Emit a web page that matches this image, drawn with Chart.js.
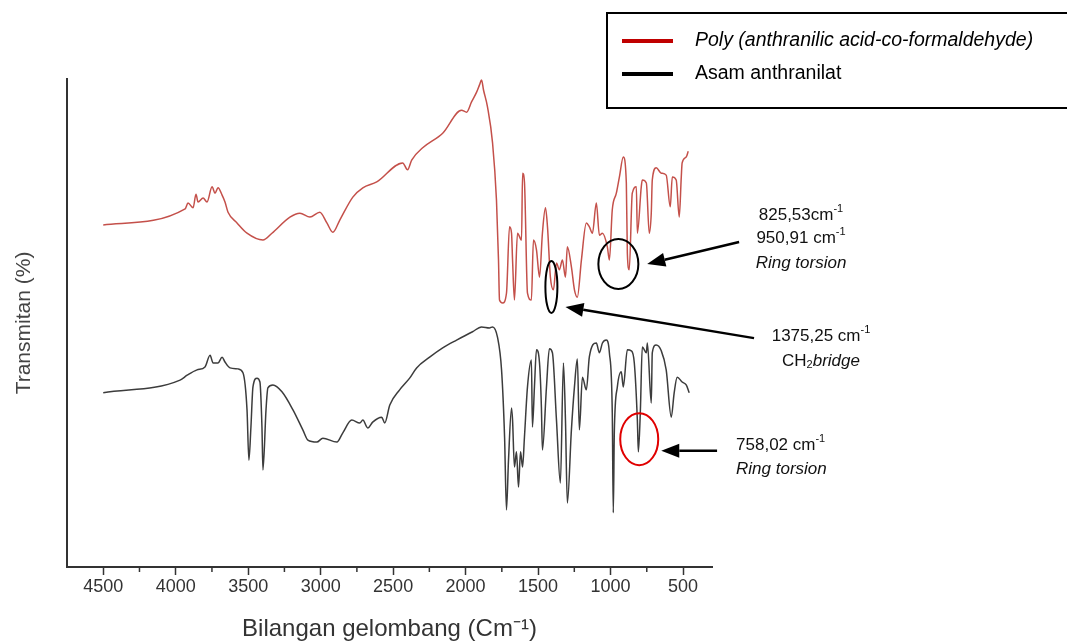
<!DOCTYPE html>
<html>
<head>
<meta charset="utf-8">
<title>FTIR</title>
<script src="https://cdn.jsdelivr.net/npm/chart.js@4.4.1/dist/chart.umd.min.js"></script>
<style>
  html, body { margin: 0; padding: 0; background: #fff; }
  #wrap { width: 1067px; height: 641px; }
</style>
</head>
<body>
<div id="wrap"><canvas id="chart" width="1067" height="641"></canvas></div>
<script>
// bilangan gelombang (cm-1) dan transmitan (skala relatif, sumbu y tanpa angka)
const polyWavenumber = [4500,3935,3915,3880,3860,3846,3811,3784,3749,3729,3708,3680,3660,3639,3577,3508,3398,3336,3212,3143,3074,3006,2957,2916,2868,2778,2709,2613,2434,2400,2372,2296,2158,2028,1993,1959,1924,1904,1890,1876,1849,1814,1787,1773,1766,1745,1718,1697,1683,1676,1663,1642,1614,1607,1594,1573,1546,1532,1511,1490,1470,1449,1435,1415,1394,1373,1353,1332,1311,1298,1270,1249,1229,1201,1167,1146,1125,1098,1077,1056,1022,1008,988,960,939,912,891,884,871,850,822,815,788,781,753,733,719,712,685,650,616,588,574,547,526,512,506,478,464];
const polyTransmittance = [70.1,73.4,74.6,73.6,76.4,74.8,75.6,74.8,77.9,76.6,77.7,76.2,74.8,72.7,70.5,68.4,67.0,68.4,71.7,72.5,71.7,72.7,70.5,68.6,71.1,75.8,77.7,78.9,82.8,81.4,83.4,85.9,88.9,93.6,93.2,95.3,97.3,98.8,99.8,97.7,94.3,86.9,75.2,62.9,54.7,54.1,56.1,69.7,68.4,62.9,54.7,68.4,67.0,80.7,78.9,56.1,54.7,67.0,65.0,59.4,68.4,73.6,69.7,59.4,56.8,62.3,60.9,62.9,59.4,65.6,61.5,56.8,55.3,62.9,70.5,69.7,68.4,74.6,68.0,68.4,65.6,62.9,73.2,76.6,79.9,84.0,78.7,64.3,60.9,76.6,77.9,68.4,77.9,79.3,78.7,68.4,72.5,79.3,81.8,80.7,80.3,73.8,79.9,79.3,71.7,79.9,82.8,84.0,85.2];

const asamWavenumber = [4500,3970,3921,3853,3798,3763,3742,3708,3680,3660,3625,3570,3536,3508,3495,3481,3467,3439,3419,3405,3398,3377,3364,3329,3267,3191,3123,3088,3026,2985,2888,2847,2785,2730,2709,2675,2641,2579,2558,2523,2455,2386,2338,2248,2158,2062,1952,1890,1835,1814,1780,1752,1731,1718,1704,1683,1676,1663,1649,1635,1621,1607,1594,1573,1546,1539,1525,1511,1490,1477,1470,1442,1422,1401,1373,1346,1325,1311,1298,1270,1249,1229,1215,1194,1167,1146,1098,1077,1056,1029,1008,988,981,974,953,926,912,884,857,836,815,808,794,781,753,746,719,712,685,650,616,581,561,540,506,478,457];
const asamTransmittance = [35.7,38.3,39.3,40.4,41.0,43.4,41.8,41.8,43.0,42.0,40.8,40.6,39.8,32.2,21.9,28.7,36.9,38.7,37.9,28.7,19.9,32.2,36.7,37.3,35.9,32.2,28.1,26.0,25.6,26.4,25.6,27.5,30.1,29.5,30.1,28.5,29.7,30.7,29.5,33.2,36.3,38.7,40.8,43.0,44.9,46.5,48.2,49.2,49.0,49.2,47.1,40.4,26.6,11.7,21.9,32.6,30.1,20.5,23.6,16.4,23.6,20.5,26.6,36.9,42.4,28.7,36.9,44.5,41.8,32.8,24.0,36.9,44.7,43.9,30.1,17.2,41.8,30.1,13.1,28.1,36.9,42.6,28.1,38.9,36.3,43.1,45.9,43.9,45.9,46.5,43.9,31.6,11.1,27.5,36.9,40.0,36.9,44.5,44.3,41.8,30.1,23.6,32.2,45.1,43.9,45.9,33.6,43.9,45.5,44.3,40.4,30.7,35.7,38.9,37.9,37.3,35.7];

const majorTicks = [4500, 4000, 3500, 3000, 2500, 2000, 1500, 1000, 500];
const minorTicks = [4250, 3750, 3250, 2750, 2250, 1750, 1250, 750];
const seriesLabels = ['Poly (anthranilic acid-co-formaldehyde)', 'Asam anthranilat'];

// tanda puncak: elips, panah dan keterangan (posisi dalam koordinat data)
const markEllipses = [
  { x: 946, y: 62.1, rx: 20, ry: 25, color: '#000' },
  { x: 1408, y: 57.4, rx: 6, ry: 26, color: '#000' },
  { x: 802, y: 26.2, rx: 19, ry: 26, color: '#e00000' }
];
const markArrows = [
  { from: [113, 66.6], to: [747, 62.1] },
  { from: [10, 46.9], to: [1311, 53.3] },
  { from: [265, 23.8], to: [650, 23.8] }
];
const markTexts = [
  { x: -314, y: 72.1, align: 'center', segs: [{ t: '825,53cm' }, { t: '-1', sup: true }] },
  { x: -314, y: 67.4, align: 'center', segs: [{ t: '950,91 cm' }, { t: '-1', sup: true }] },
  { x: -314, y: 62.3, align: 'center', segs: [{ t: 'Ring torsion', it: true }] },
  { x: -452, y: 47.3, align: 'center', segs: [{ t: '1375,25 cm' }, { t: '-1', sup: true }] },
  { x: -452, y: 42.2, align: 'center', segs: [{ t: 'CH' }, { t: '2', sub: true }, { t: 'bridge', it: true }] },
  { x: 134, y: 25.0, align: 'left', segs: [{ t: '758,02 cm' }, { t: '-1', sup: true }] },
  { x: 134, y: 20.1, align: 'left', segs: [{ t: 'Ring torsion', it: true }] }
];

const FONT = "'Liberation Sans', Arial, sans-serif";

function toPoints(xs, ys) {
  return xs.map((x, i) => ({ x: x, y: ys[i] }));
}

function segFont(s) {
  if (s.sup || s.sub) return '11px ' + FONT;
  return (s.it ? 'italic ' : '') + '17px ' + FONT;
}

function drawRich(ctx, segs, x, y, align) {
  let w = 0;
  segs.forEach(s => { ctx.font = segFont(s); w += ctx.measureText(s.t).width; });
  let cx = align === 'center' ? x - w / 2 : x;
  ctx.textAlign = 'left';
  ctx.textBaseline = 'middle';
  segs.forEach(s => {
    ctx.font = segFont(s);
    const dy = s.sup ? -6 : (s.sub ? 4 : 0);
    ctx.fillText(s.t, cx, y + dy);
    cx += ctx.measureText(s.t).width;
  });
}

function drawArrow(ctx, x1, y1, x2, y2) {
  const ang = Math.atan2(y2 - y1, x2 - x1);
  const head = 18, half = 7;
  const bx = x2 - head * Math.cos(ang), by = y2 - head * Math.sin(ang);
  ctx.beginPath();
  ctx.moveTo(x1, y1);
  ctx.lineTo(bx, by);
  ctx.stroke();
  ctx.beginPath();
  ctx.moveTo(x2, y2);
  ctx.lineTo(bx + half * Math.sin(ang), by - half * Math.cos(ang));
  ctx.lineTo(bx - half * Math.sin(ang), by + half * Math.cos(ang));
  ctx.closePath();
  ctx.fill();
}

const extras = {
  id: 'extras',
  afterDraw(chart) {
    const ctx = chart.ctx;
    const xs = chart.scales.x, ys = chart.scales.y;
    ctx.save();

    // minor ticks
    ctx.strokeStyle = '#333';
    ctx.lineWidth = 1.5;
    minorTicks.forEach(v => {
      const px = xs.getPixelForValue(v);
      ctx.beginPath();
      ctx.moveTo(px, xs.top);
      ctx.lineTo(px, xs.top + 5);
      ctx.stroke();
    });

    // ellipses
    markEllipses.forEach(e => {
      ctx.strokeStyle = e.color;
      ctx.lineWidth = 2;
      ctx.beginPath();
      ctx.ellipse(xs.getPixelForValue(e.x), ys.getPixelForValue(e.y), e.rx, e.ry, 0, 0, Math.PI * 2);
      ctx.stroke();
    });

    // arrows
    ctx.strokeStyle = '#000';
    ctx.fillStyle = '#000';
    ctx.lineWidth = 2.5;
    markArrows.forEach(a => {
      drawArrow(ctx,
        xs.getPixelForValue(a.from[0]), ys.getPixelForValue(a.from[1]),
        xs.getPixelForValue(a.to[0]), ys.getPixelForValue(a.to[1]));
    });

    // labels
    ctx.fillStyle = '#111';
    markTexts.forEach(t => {
      drawRich(ctx, t.segs, xs.getPixelForValue(t.x), ys.getPixelForValue(t.y), t.align);
    });

    // legend box
    ctx.strokeStyle = '#000';
    ctx.lineWidth = 2;
    ctx.strokeRect(607, 13, 470, 95);
    const rows = [41, 74];
    chart.data.datasets.forEach((ds, i) => {
      ctx.strokeStyle = ds.legendColor;
      ctx.lineWidth = 4;
      ctx.beginPath();
      ctx.moveTo(622, rows[i]);
      ctx.lineTo(673, rows[i]);
      ctx.stroke();
      ctx.fillStyle = '#000';
      ctx.font = (i === 0 ? 'italic ' : '') + '19.5px ' + FONT;
      ctx.textAlign = 'left';
      ctx.textBaseline = 'middle';
      ctx.fillText(ds.label, 695, rows[i]);
    });

    ctx.restore();
  }
};

new Chart(document.getElementById('chart'), {
  type: 'line',
  data: {
    datasets: [
      {
        label: seriesLabels[0],
        data: toPoints(polyWavenumber, polyTransmittance),
        borderColor: '#c4504a',
        legendColor: '#c00000',
        borderWidth: 1.5,
        pointRadius: 0,
        cubicInterpolationMode: 'monotone',
        fill: false
      },
      {
        label: seriesLabels[1],
        data: toPoints(asamWavenumber, asamTransmittance),
        borderColor: '#3c3c3c',
        legendColor: '#000',
        borderWidth: 1.5,
        pointRadius: 0,
        cubicInterpolationMode: 'monotone',
        fill: false
      }
    ]
  },
  options: {
    responsive: false,
    animation: false,
    layout: { padding: { left: 0, right: 355, top: 79, bottom: 0 } },
    plugins: {
      legend: { display: false },
      tooltip: { enabled: false }
    },
    scales: {
      x: {
        type: 'linear',
        reverse: true,
        min: 300,
        max: 4750,
        afterBuildTicks: (scale) => { scale.ticks = majorTicks.map(v => ({ value: v })); },
        afterFit: (scale) => { scale.height = 74; },
        ticks: {
          color: '#333',
          font: { family: FONT, size: 18 },
          padding: 1,
          maxRotation: 0,
          callback: (v) => String(v)
        },
        grid: { drawOnChartArea: false, drawTicks: true, tickLength: 8, tickColor: '#333', tickWidth: 1.5 },
        border: { display: true, color: '#333', width: 2 },
        title: {
          display: true,
          text: 'Bilangan gelombang (Cm\u207B\u00B9)',
          color: '#333',
          font: { family: FONT, size: 24, lineHeight: 1 },
          padding: { top: 0, bottom: 0 }
        }
      },
      y: {
        min: 0,
        max: 100,
        afterFit: (scale) => { scale.width = 67; },
        ticks: { display: false },
        grid: { drawOnChartArea: false, drawTicks: false },
        border: { display: true, color: '#333', width: 2 },
        title: {
          display: true,
          text: 'Transmitan (%)',
          color: '#444',
          font: { family: FONT, size: 21, lineHeight: 1.2 },
          padding: { top: 12, bottom: 0 }
        }
      }
    }
  },
  plugins: [extras]
});
</script>
</body>
</html>
